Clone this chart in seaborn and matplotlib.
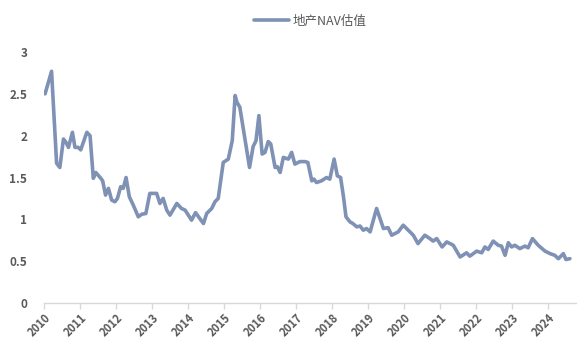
import matplotlib
matplotlib.use("Agg")
import matplotlib.pyplot as plt
import seaborn as sns
import pandas as pd

years = [
    2010.03, 2010.21, 2010.35, 2010.44, 2010.54, 2010.61, 2010.68, 2010.79, 2010.86, 2010.95,
    2011.02, 2011.19, 2011.28, 2011.37, 2011.44, 2011.56, 2011.63, 2011.71, 2011.79, 2011.88,
    2011.97, 2012.04, 2012.13, 2012.20, 2012.28, 2012.37, 2012.48, 2012.62, 2012.71, 2012.83,
    2012.94, 2013.13, 2013.22, 2013.31, 2013.41, 2013.50, 2013.69, 2013.82, 2013.92, 2014.10,
    2014.21, 2014.43, 2014.52, 2014.66, 2014.75, 2014.84, 2014.98, 2015.12, 2015.23, 2015.31,
    2015.36, 2015.44, 2015.71, 2015.81, 2015.89, 2015.97, 2016.06, 2016.14, 2016.23, 2016.30,
    2016.42, 2016.48, 2016.56, 2016.65, 2016.79, 2016.88, 2016.97, 2017.11, 2017.25, 2017.33,
    2017.44, 2017.50, 2017.57, 2017.71, 2017.85, 2017.94, 2018.06, 2018.15, 2018.24, 2018.32,
    2018.39, 2018.50, 2018.58, 2018.69, 2018.78, 2018.87, 2018.96, 2019.06, 2019.24, 2019.43,
    2019.56, 2019.66, 2019.84, 2019.98, 2020.12, 2020.26, 2020.39, 2020.58, 2020.72, 2020.81,
    2020.91, 2021.06, 2021.19, 2021.37, 2021.56, 2021.74, 2021.83, 2022.02, 2022.16, 2022.25,
    2022.34, 2022.48, 2022.62, 2022.71, 2022.81, 2022.90, 2022.99, 2023.08, 2023.22, 2023.36,
    2023.45, 2023.57, 2023.73, 2023.92, 2024.06, 2024.19, 2024.29, 2024.43, 2024.50, 2024.61,
]
nav = [
    2.50, 2.77, 1.67, 1.62, 1.96, 1.92, 1.86, 2.04, 1.86, 1.86,
    1.83, 2.04, 2.00, 1.49, 1.56, 1.50, 1.46, 1.29, 1.37, 1.23,
    1.21, 1.25, 1.39, 1.37, 1.50, 1.27, 1.17, 1.03, 1.06, 1.07,
    1.31, 1.31, 1.19, 1.25, 1.11, 1.05, 1.19, 1.13, 1.11, 0.99,
    1.08, 0.95, 1.07, 1.13, 1.21, 1.25, 1.68, 1.72, 1.94, 2.48,
    2.40, 2.34, 1.62, 1.87, 1.94, 2.24, 1.78, 1.80, 1.93, 1.90,
    1.62, 1.63, 1.56, 1.74, 1.72, 1.80, 1.66, 1.69, 1.69, 1.68,
    1.46, 1.48, 1.44, 1.46, 1.50, 1.48, 1.72, 1.52, 1.50, 1.27,
    1.03, 0.97, 0.95, 0.91, 0.92, 0.87, 0.89, 0.85, 1.13, 0.89,
    0.90, 0.81, 0.85, 0.93, 0.87, 0.81, 0.71, 0.81, 0.77, 0.74,
    0.77, 0.67, 0.73, 0.69, 0.55, 0.60, 0.56, 0.62, 0.60, 0.67,
    0.64, 0.74, 0.69, 0.68, 0.57, 0.72, 0.67, 0.69, 0.65, 0.68,
    0.66, 0.77, 0.69, 0.62, 0.59, 0.57, 0.53, 0.59, 0.52, 0.53,
]
series_name = "地产NAV估值"
year_ticks = list(range(2010, 2025))
y_ticks = [0, 0.5, 1, 1.5, 2, 2.5, 3]
y_labels = ["0", "0.5", "1", "1.5", "2", "2.5", "3"]

df = pd.DataFrame({"year": years, "value": nav, "series": series_name})

sns.set_theme(style="white")
plt.rcParams["font.family"] = ["Noto Sans CJK SC", "DejaVu Sans"]

fig = plt.figure(figsize=(5.79, 3.54), dpi=100)
ax = fig.add_axes([44 / 579, 1 - 303 / 354, (576 - 44) / 579, (303 - 52) / 354])

line_color = "#7F91B4"
text_color = "#595959"

sns.lineplot(data=df, x="year", y="value", hue="series", palette=[line_color],
             linewidth=2.6, ax=ax, legend=True)
for ln in ax.lines:
    ln.set_solid_joinstyle("round")
    ln.set_solid_capstyle("round")

ax.set_xlim(2010, 2024.78)
ax.set_ylim(0, 3)
ax.set_xticks(year_ticks)
ax.set_xticklabels([str(y) for y in year_ticks], rotation=45, ha="right",
                   rotation_mode="anchor", fontsize=8, fontweight="bold", color=text_color)
ax.set_yticks(y_ticks)
ax.set_yticklabels(y_labels, fontsize=8.5, fontweight="bold", color=text_color)
ax.set_xlabel("")
ax.set_ylabel("")

for s in ["top", "right", "left"]:
    ax.spines[s].set_visible(False)
ax.spines["bottom"].set_color("#D9D9D9")
ax.spines["bottom"].set_linewidth(1.0)
ax.tick_params(axis="x", which="both", bottom=True, length=4, width=1.0,
               color="#D9D9D9", pad=2)
ax.tick_params(axis="y", which="both", left=False, length=0, pad=12)

handles, labels = ax.get_legend_handles_labels()
for h in handles:
    h.set_linewidth(2.6)
ax.legend(handles, labels, loc="center", bbox_to_anchor=(0.5, 1 + (52 - 21) / 251),
          frameon=False, fontsize=9, handlelength=2.8, handletextpad=0.3,
          labelcolor=text_color)

fig.savefig("out.png", dpi=100)
